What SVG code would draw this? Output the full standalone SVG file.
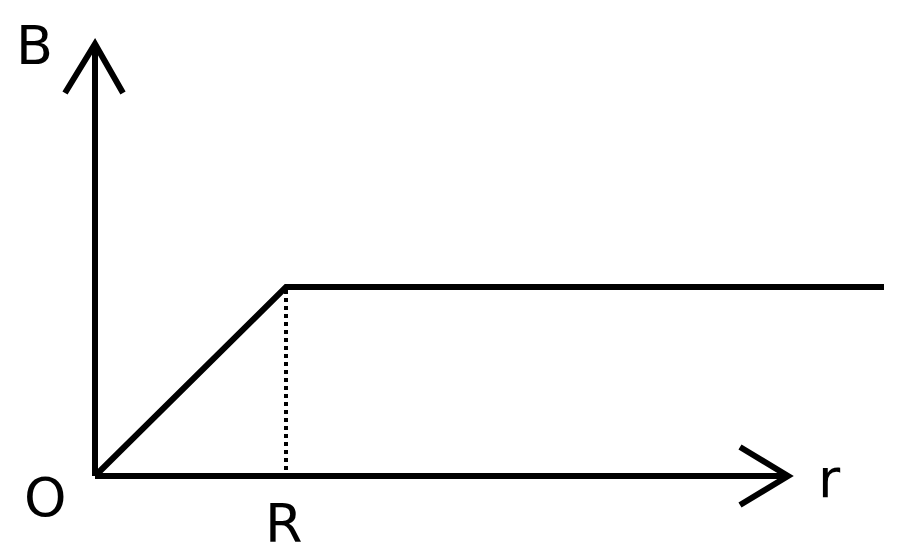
<svg xmlns="http://www.w3.org/2000/svg" width="900" height="557" viewBox="0 0 900 557">
<style>
.l{stroke:#000;stroke-width:6;fill:none;stroke-linecap:butt;stroke-linejoin:miter}
.t{font-family:"DejaVu Sans",sans-serif;font-size:54px;fill:#000}
</style>
<rect width="900" height="557" fill="#fff"/>
<g id="connectors">
<path class="l" d="M95,476 V44"/>
<path class="l" d="M65,93 L95,44 L123,93"/>
<path class="l" d="M95,476 H788"/>
<path class="l" d="M740,447 L788,476 L740,505"/>
<path class="l" d="M95,476 L286,287 H884"/>
<path class="l" d="M286,290 V476" stroke-dasharray="4,4" style="stroke-width:4"/>
</g>
<g id="labels">
<text class="t" x="16" y="64">B</text>
<text class="t" x="24" y="516">O</text>
<text class="t" x="265" y="542">R</text>
<text class="t" x="818" y="497">r</text>
</g>
</svg>
